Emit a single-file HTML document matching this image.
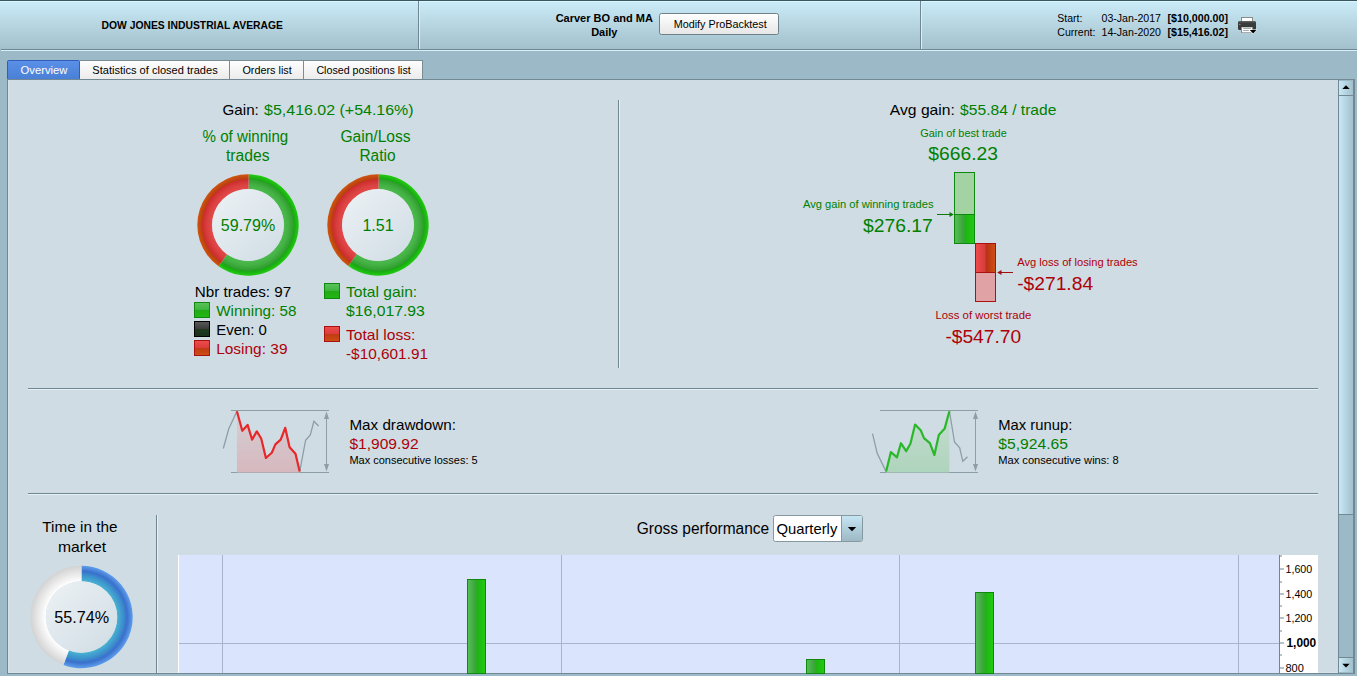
<!DOCTYPE html><html><head><meta charset="utf-8"><style>html,body{margin:0;padding:0;overflow:hidden;background:#9bb9c6}svg{display:block}text{font-family:"Liberation Sans",sans-serif}</style></head><body>
<svg width="1357" height="676" viewBox="0 0 1357 676">
<defs>
<linearGradient id="hdr" x1="0" y1="0" x2="0" y2="1"><stop offset="0" stop-color="#cbecf9"/><stop offset="1" stop-color="#a3c0cb"/></linearGradient>
<linearGradient id="btn" x1="0" y1="0" x2="0" y2="1"><stop offset="0" stop-color="#ffffff"/><stop offset="1" stop-color="#e6e6e6"/></linearGradient>
<linearGradient id="tabsel" x1="0" y1="0" x2="0" y2="1"><stop offset="0" stop-color="#5b90e8"/><stop offset="1" stop-color="#4a7fd6"/></linearGradient>
<linearGradient id="tab" x1="0" y1="0" x2="0" y2="1"><stop offset="0" stop-color="#ffffff"/><stop offset="1" stop-color="#ebebeb"/></linearGradient>
<linearGradient id="disc" x1="0" y1="0" x2="1" y2="1"><stop offset="0" stop-color="#edf2f5"/><stop offset="1" stop-color="#cfdce4"/></linearGradient>
<linearGradient id="ddb" x1="0" y1="0" x2="0" y2="1"><stop offset="0" stop-color="#c6e5f2"/><stop offset="1" stop-color="#9cb9c5"/></linearGradient>
<linearGradient id="thumb" x1="0" y1="0" x2="1" y2="0"><stop offset="0" stop-color="#c8e8f6"/><stop offset="1" stop-color="#a2c0cc"/></linearGradient>
<linearGradient id="sqg" x1="0" y1="0" x2="0" y2="1"><stop offset="0" stop-color="#5cc45c"/><stop offset="0.5" stop-color="#3cb43c"/><stop offset="0.5" stop-color="#22aa14"/><stop offset="1" stop-color="#22b814"/></linearGradient>
<linearGradient id="sqb" x1="0" y1="0" x2="0" y2="1"><stop offset="0" stop-color="#5a5a5a"/><stop offset="0.5" stop-color="#3a3a3a"/><stop offset="0.5" stop-color="#1e3a1e"/><stop offset="1" stop-color="#1a301a"/></linearGradient>
<linearGradient id="sqr" x1="0" y1="0" x2="0" y2="1"><stop offset="0" stop-color="#f04c4c"/><stop offset="0.5" stop-color="#dc3c3c"/><stop offset="0.5" stop-color="#c03a14"/><stop offset="1" stop-color="#cc5014"/></linearGradient>
<linearGradient id="barg" x1="0" y1="0" x2="1" y2="0"><stop offset="0" stop-color="#55c055"/><stop offset="0.45" stop-color="#3aa43a"/><stop offset="0.55" stop-color="#1eb414"/><stop offset="1" stop-color="#22cc11"/></linearGradient>
<linearGradient id="barr" x1="0" y1="0" x2="1" y2="0"><stop offset="0" stop-color="#f04c4c"/><stop offset="0.45" stop-color="#d83c3c"/><stop offset="0.55" stop-color="#b83214"/><stop offset="1" stop-color="#d05214"/></linearGradient>
<linearGradient id="fillr" x1="0" y1="0" x2="0" y2="1"><stop offset="0" stop-color="#d4d0d6"/><stop offset="1" stop-color="#d6b8be"/></linearGradient>
<linearGradient id="fillg" x1="0" y1="0" x2="0" y2="1"><stop offset="0" stop-color="#c6dcd2"/><stop offset="1" stop-color="#aed4bc"/></linearGradient>
<radialGradient id="rg" gradientUnits="userSpaceOnUse" cx="0" cy="0" r="50.7"><stop offset="0.708" stop-color="#4cba4c"/><stop offset="0.8" stop-color="#42b042"/><stop offset="0.9" stop-color="#2e9e2e"/><stop offset="0.905" stop-color="#18a612"/><stop offset="1" stop-color="#22cc12"/></radialGradient>
<radialGradient id="rr" gradientUnits="userSpaceOnUse" cx="0" cy="0" r="50.7"><stop offset="0.708" stop-color="#e44a4a"/><stop offset="0.8" stop-color="#da4040"/><stop offset="0.9" stop-color="#cc2c2c"/><stop offset="0.905" stop-color="#b83e10"/><stop offset="1" stop-color="#d05510"/></radialGradient>
<radialGradient id="rb" gradientUnits="userSpaceOnUse" cx="0" cy="0" r="51.2"><stop offset="0.697" stop-color="#48b2d2"/><stop offset="0.82" stop-color="#3c8ecc"/><stop offset="0.89" stop-color="#3a70cc"/><stop offset="1" stop-color="#5e9eec"/></radialGradient>
<radialGradient id="rw" gradientUnits="userSpaceOnUse" cx="0" cy="0" r="51.2"><stop offset="0.697" stop-color="#ffffff"/><stop offset="1" stop-color="#d2d2d2"/></radialGradient>
</defs>
<rect x="0" y="0" width="1357" height="676" fill="#9bb9c6"/>
<rect x="0" y="0" width="1357" height="49" fill="url(#hdr)"/>
<rect x="0" y="0" width="1357" height="1" fill="#3a5560"/>
<rect x="0" y="1" width="1357" height="1" fill="#d8f7ff"/>
<rect x="1" y="49" width="1356" height="1" fill="#6e8792"/>
<rect x="1" y="50" width="1356" height="1" fill="#d6f0fa"/>
<rect x="418" y="1" width="1" height="48" fill="#6e8792"/>
<rect x="419" y="2" width="1" height="47" fill="#d8f0fa"/>
<rect x="920" y="1" width="1" height="48" fill="#6e8792"/>
<rect x="921" y="2" width="1" height="47" fill="#d8f0fa"/>
<text x="101.5" y="28.7" font-size="11" fill="#000" font-weight="bold" textLength="181.5" lengthAdjust="spacingAndGlyphs" >DOW JONES INDUSTRIAL AVERAGE</text>
<text x="604.3" y="22" font-size="11" fill="#000" font-weight="bold" text-anchor="middle" textLength="97.3" lengthAdjust="spacingAndGlyphs" >Carver BO and MA</text>
<text x="604.3" y="35.8" font-size="11" fill="#000" font-weight="bold" text-anchor="middle" >Daily</text>
<rect x="659.5" y="13.5" width="119" height="21" rx="2" fill="url(#btn)" stroke="#6f8189"/>
<text x="673.7" y="28" font-size="11" fill="#000" textLength="93" lengthAdjust="spacingAndGlyphs" >Modify ProBacktest</text>
<text x="1057.3" y="21.8" font-size="11" fill="#000" textLength="25.1" lengthAdjust="spacingAndGlyphs" >Start:</text>
<text x="1101.5" y="21.8" font-size="11" fill="#000" textLength="59.5" lengthAdjust="spacingAndGlyphs" >03-Jan-2017</text>
<text x="1167.5" y="21.8" font-size="11" fill="#000" font-weight="bold" textLength="60.5" lengthAdjust="spacingAndGlyphs" >[$10,000.00]</text>
<text x="1057.3" y="35.5" font-size="11" fill="#000" textLength="38.1" lengthAdjust="spacingAndGlyphs" >Current:</text>
<text x="1101.5" y="35.5" font-size="11" fill="#000" textLength="59.5" lengthAdjust="spacingAndGlyphs" >14-Jan-2020</text>
<text x="1167.5" y="35.5" font-size="11" fill="#000" font-weight="bold" textLength="60.5" lengthAdjust="spacingAndGlyphs" >[$15,416.02]</text>
<g>
<rect x="1241" y="17" width="12" height="5" fill="#8a8a8a"/>
<rect x="1242" y="18" width="10" height="4" fill="#fff"/>
<rect x="1238" y="21" width="18" height="9" rx="1.5" fill="#3a3a3a"/>
<rect x="1239" y="21" width="16" height="1.5" fill="#5a5a5a"/>
<circle cx="1239.8" cy="24.5" r="0.8" fill="#8a8a8a"/>
<rect x="1241" y="27" width="12" height="6" fill="#8a8a8a"/>
<rect x="1242" y="27.5" width="10" height="4.8" fill="#fff"/>
<rect x="1243.2" y="28" width="7.6" height="1" fill="#a4acb0"/>
<rect x="1243.2" y="30" width="5.7" height="1" fill="#a4acb0"/>
<path d="M1248.8,29.6 L1257.2,29.6 L1253,34.2 Z" fill="#fff"/>
<path d="M1249.8,30.1 L1256.4,30.1 L1253.1,33.5 Z" fill="#000"/>
</g>
<rect x="80" y="60" width="343" height="19" fill="url(#tab)"/>
<rect x="80" y="60" width="343" height="1" fill="#7a8c94"/>
<rect x="229" y="60" width="1" height="19" fill="#7a8c94"/>
<rect x="303" y="60" width="1" height="19" fill="#7a8c94"/>
<rect x="422" y="60" width="1" height="19" fill="#7a8c94"/>
<rect x="7.5" y="60.5" width="72" height="19" rx="1" fill="url(#tabsel)" stroke="#2f5fb8"/>
<text x="20.6" y="73.8" font-size="11" fill="#ffffff" textLength="46.8" lengthAdjust="spacingAndGlyphs" >Overview</text>
<text x="92.3" y="73.8" font-size="11" fill="#000" textLength="125.4" lengthAdjust="spacingAndGlyphs" >Statistics of closed trades</text>
<text x="242.4" y="73.8" font-size="11" fill="#000" textLength="49.4" lengthAdjust="spacingAndGlyphs" >Orders list</text>
<text x="316.4" y="73.8" font-size="11" fill="#000" textLength="94.4" lengthAdjust="spacingAndGlyphs" >Closed positions list</text>
<rect x="7" y="79" width="1348" height="595" fill="#728893"/>
<rect x="8" y="80" width="1330" height="593" fill="#d6e3ea"/>
<rect x="9" y="80" width="1329" height="592" fill="#cfdce3"/>
<rect x="1338" y="80" width="16" height="593" fill="#9bb9c6"/>
<rect x="1338" y="80" width="1" height="593" fill="#728893"/>
<rect x="1353" y="80" width="2" height="593" fill="#728893"/>
<rect x="1339" y="81" width="14" height="14" fill="url(#thumb)"/>
<rect x="1339" y="95" width="14" height="1" fill="#728893"/>
<path d="M1342.3,89 L1349.7,89 L1346,85.3 Z" fill="#000"/>
<rect x="1339" y="96" width="14" height="418" fill="url(#thumb)"/>
<rect x="1339" y="514" width="14" height="1" fill="#728893"/>
<rect x="1339" y="657" width="14" height="1" fill="#728893"/>
<rect x="1339" y="658" width="14" height="14" fill="url(#thumb)"/>
<path d="M1342.3,663.8 L1349.7,663.8 L1346,667.5 Z" fill="#000"/>
<text x="222.5" y="115" font-size="15" fill="#000" textLength="36.3" lengthAdjust="spacingAndGlyphs" >Gain:</text>
<text x="264.1" y="115" font-size="15" fill="#008000" textLength="149.5" lengthAdjust="spacingAndGlyphs" >$5,416.02 (+54.16%)</text>
<text x="245.4" y="142" font-size="16" fill="#008000" text-anchor="middle" textLength="85.6" lengthAdjust="spacingAndGlyphs" >% of winning</text>
<text x="247.8" y="161.2" font-size="16" fill="#008000" text-anchor="middle" textLength="43.6" lengthAdjust="spacingAndGlyphs" >trades</text>
<text x="375.5" y="142" font-size="16" fill="#008000" text-anchor="middle" textLength="70.2" lengthAdjust="spacingAndGlyphs" >Gain/Loss</text>
<text x="377.5" y="161.2" font-size="16" fill="#008000" text-anchor="middle" textLength="36.1" lengthAdjust="spacingAndGlyphs" >Ratio</text>
<g transform="translate(248,225)">
<path d="M0.71,-50.70 A50.7,50.7 0 1 1 -29.44,41.28 L-20.85,29.23 A35.9,35.9 0 1 0 0.50,-35.90 Z" fill="url(#rg)"/>
<path d="M-29.44,41.28 A50.7,50.7 0 0 1 0.71,-50.70 L0.50,-35.90 A35.9,35.9 0 0 0 -20.85,29.23 Z" fill="url(#rr)"/>
<circle cx="0" cy="0" r="35.9" fill="url(#disc)"/>
</g>
<g transform="translate(378,225)">
<path d="M0.71,-50.70 A50.7,50.7 0 1 1 -29.80,41.02 L-21.10,29.04 A35.9,35.9 0 1 0 0.50,-35.90 Z" fill="url(#rg)"/>
<path d="M-29.80,41.02 A50.7,50.7 0 0 1 0.71,-50.70 L0.50,-35.90 A35.9,35.9 0 0 0 -21.10,29.04 Z" fill="url(#rr)"/>
<circle cx="0" cy="0" r="35.9" fill="url(#disc)"/>
</g>
<text x="248" y="231" font-size="16" fill="#008000" text-anchor="middle" textLength="54.4" lengthAdjust="spacingAndGlyphs" >59.79%</text>
<text x="378" y="231" font-size="16" fill="#008000" text-anchor="middle" >1.51</text>
<text x="194.7" y="296.6" font-size="15" fill="#000" textLength="96.5" lengthAdjust="spacingAndGlyphs" >Nbr trades: 97</text>
<rect x="194.5" y="302.5" width="15" height="15" fill="url(#sqg)" stroke="#0e880e"/>
<text x="216.2" y="315.8" font-size="15" fill="#008000" textLength="80.2" lengthAdjust="spacingAndGlyphs" >Winning: 58</text>
<rect x="194.5" y="321.5" width="15" height="15" fill="url(#sqb)" stroke="#000"/>
<text x="216.2" y="334.8" font-size="15" fill="#000" textLength="50.7" lengthAdjust="spacingAndGlyphs" >Even: 0</text>
<rect x="194.5" y="340.5" width="15" height="15" fill="url(#sqr)" stroke="#aa1111"/>
<text x="216.2" y="353.8" font-size="15" fill="#ae0008" textLength="71.3" lengthAdjust="spacingAndGlyphs" >Losing: 39</text>
<rect x="324.5" y="283.5" width="15" height="15" fill="url(#sqg)" stroke="#0e880e"/>
<text x="346" y="296.9" font-size="15" fill="#008000" textLength="71.2" lengthAdjust="spacingAndGlyphs" >Total gain:</text>
<text x="346" y="315.8" font-size="15" fill="#008000" textLength="78.8" lengthAdjust="spacingAndGlyphs" >$16,017.93</text>
<rect x="324.5" y="326.5" width="15" height="15" fill="url(#sqr)" stroke="#aa1111"/>
<text x="346" y="339.8" font-size="15" fill="#ae0008" textLength="69.4" lengthAdjust="spacingAndGlyphs" >Total loss:</text>
<text x="346" y="358.6" font-size="15" fill="#ae0008" textLength="82" lengthAdjust="spacingAndGlyphs" >-$10,601.91</text>
<rect x="618" y="100" width="1" height="268" fill="#6f8792"/>
<rect x="619" y="100" width="1" height="268" fill="#e4f2f8"/>
<text x="889.8" y="114.8" font-size="15" fill="#000" textLength="65.1" lengthAdjust="spacingAndGlyphs" >Avg gain:</text>
<text x="960.1" y="114.8" font-size="15" fill="#008000" textLength="96.3" lengthAdjust="spacingAndGlyphs" >$55.84 / trade</text>
<text x="920.3" y="136.5" font-size="11" fill="#008000" textLength="86.4" lengthAdjust="spacingAndGlyphs" >Gain of best trade</text>
<text x="928.3" y="160.3" font-size="18" fill="#008000" textLength="69.7" lengthAdjust="spacingAndGlyphs" >$666.23</text>
<rect x="954.5" y="172.5" width="20" height="42" fill="#a3d2a3" stroke="#0e880e"/>
<rect x="954.5" y="214.5" width="20" height="29" fill="url(#barg)" stroke="#0e880e"/>
<path d="M937,214.5 L952,214.5" stroke="#0e780e" stroke-width="1"/><path d="M949.5,212 L953.8,214.5 L949.5,217 Z" fill="#0e780e"/>
<text x="803" y="207.6" font-size="11" fill="#008000" textLength="130.5" lengthAdjust="spacingAndGlyphs" >Avg gain of winning trades</text>
<text x="863.1" y="231.6" font-size="18" fill="#008000" textLength="69.7" lengthAdjust="spacingAndGlyphs" >$276.17</text>
<rect x="975.5" y="243.5" width="20" height="29" fill="url(#barr)" stroke="#aa1111"/>
<rect x="975.5" y="272.5" width="20" height="29" fill="#e0a2a4" stroke="#aa1111"/>
<path d="M999,272.5 L1013,272.5" stroke="#a01010" stroke-width="1"/><path d="M1001.5,270 L997.2,272.5 L1001.5,275 Z" fill="#a01010"/>
<text x="1017.2" y="266" font-size="11" fill="#ae0008" textLength="120.5" lengthAdjust="spacingAndGlyphs" >Avg loss of losing trades</text>
<text x="1017.2" y="289.5" font-size="18" fill="#ae0008" textLength="75.9" lengthAdjust="spacingAndGlyphs" >-$271.84</text>
<text x="935.5" y="318.7" font-size="11" fill="#ae0008" textLength="95.8" lengthAdjust="spacingAndGlyphs" >Loss of worst trade</text>
<text x="945.4" y="342.5" font-size="18" fill="#ae0008" textLength="75.7" lengthAdjust="spacingAndGlyphs" >-$547.70</text>
<rect x="28" y="388" width="1290" height="1" fill="#6f8792"/>
<rect x="28" y="389" width="1290" height="1" fill="#e4f2f8"/>
<rect x="28" y="493" width="1290" height="1" fill="#6f8792"/>
<rect x="28" y="494" width="1290" height="1" fill="#e4f2f8"/>
<rect x="231" y="410" width="98" height="1" fill="#8e9ea6"/>
<rect x="231" y="472" width="98" height="1" fill="#8e9ea6"/>
<polygon points="236.9,472.5 236.9,411.2 242.3,430.8 247.6,424.9 252.1,439.6 256.8,431.4 261.2,438.5 265.9,458 271.8,452.7 275.4,444.4 280.7,439.6 285.2,427.8 289.6,447.3 295.5,453.8 299.7,471.6 299.7,472.5" fill="url(#fillr)"/>
<polyline points="223.3,448.5 228.7,429 236.9,411.2" fill="none" stroke="#8e9ea6" stroke-width="1.3"/>
<polyline points="299.7,471.6 305.6,440.2 310.3,434.9 313.9,421.3 318.6,426" fill="none" stroke="#8e9ea6" stroke-width="1.3"/>
<polyline points="236.9,411.2 242.3,430.8 247.6,424.9 252.1,439.6 256.8,431.4 261.2,438.5 265.9,458 271.8,452.7 275.4,444.4 280.7,439.6 285.2,427.8 289.6,447.3 295.5,453.8 299.7,471.6" fill="none" stroke="#e82828" stroke-width="2.2" stroke-linejoin="round"/>
<rect x="326.0" y="414" width="1" height="55" fill="#8e9ea6"/>
<path d="M324.0,419 L329.0,419 L326.5,411.5 Z" fill="#8e9ea6"/>
<path d="M324.0,464 L329.0,464 L326.5,471.5 Z" fill="#8e9ea6"/>
<text x="349.4" y="429.9" font-size="15" fill="#000" textLength="106.6" lengthAdjust="spacingAndGlyphs" >Max drawdown:</text>
<text x="349.4" y="448.9" font-size="15" fill="#ae0008" textLength="69.3" lengthAdjust="spacingAndGlyphs" >$1,909.92</text>
<text x="349.4" y="463.6" font-size="11" fill="#000" textLength="128.2" lengthAdjust="spacingAndGlyphs" >Max consecutive losses: 5</text>
<rect x="880" y="410" width="98" height="1" fill="#8e9ea6"/>
<rect x="880" y="472" width="98" height="1" fill="#8e9ea6"/>
<polygon points="886.1,472.5 886.1,471.6 890.9,452.1 897,457.4 900.9,443.2 906.2,451.1 910.4,443.8 915.1,424.6 920.7,430.2 924,438.1 929.9,443.2 934.4,455 938.8,434.9 944.7,428.4 949.4,411.2 949.4,472.5" fill="url(#fillg)"/>
<polyline points="872.5,433.7 877.2,453.3 886.1,471.6" fill="none" stroke="#8e9ea6" stroke-width="1.3"/>
<polyline points="949.4,411.2 954.5,442 959.7,447.9 962.8,461.3 967.5,456.8" fill="none" stroke="#8e9ea6" stroke-width="1.3"/>
<polyline points="886.1,471.6 890.9,452.1 897,457.4 900.9,443.2 906.2,451.1 910.4,443.8 915.1,424.6 920.7,430.2 924,438.1 929.9,443.2 934.4,455 938.8,434.9 944.7,428.4 949.4,411.2" fill="none" stroke="#2ab82a" stroke-width="2.2" stroke-linejoin="round"/>
<rect x="975.0" y="414" width="1" height="55" fill="#8e9ea6"/>
<path d="M973.0,419 L978.0,419 L975.5,411.5 Z" fill="#8e9ea6"/>
<path d="M973.0,464 L978.0,464 L975.5,471.5 Z" fill="#8e9ea6"/>
<text x="998.3" y="429.9" font-size="15" fill="#000" textLength="74" lengthAdjust="spacingAndGlyphs" >Max runup:</text>
<text x="998.3" y="448.9" font-size="15" fill="#008000" textLength="69.6" lengthAdjust="spacingAndGlyphs" >$5,924.65</text>
<text x="998.3" y="463.6" font-size="11" fill="#000" textLength="120.4" lengthAdjust="spacingAndGlyphs" >Max consecutive wins: 8</text>
<text x="79.9" y="532" font-size="15" fill="#000" text-anchor="middle" textLength="75.1" lengthAdjust="spacingAndGlyphs" >Time in the</text>
<text x="82" y="551.8" font-size="15" fill="#000" text-anchor="middle" textLength="48" lengthAdjust="spacingAndGlyphs" >market</text>
<g transform="translate(81.5,617)">
<path d="M0.00,-51.20 A51.2,51.2 0 1 1 -18.10,47.89 L-12.62,33.40 A35.7,35.7 0 1 0 0.00,-35.70 Z" fill="url(#rb)"/>
<path d="M-18.10,47.89 A51.2,51.2 0 0 1 -0.00,-51.20 L-0.00,-35.70 A35.7,35.7 0 0 0 -12.62,33.40 Z" fill="url(#rw)"/>
<circle cx="0" cy="0" r="35.7" fill="url(#disc)"/></g>
<text x="81.6" y="622.6" font-size="16" fill="#000" text-anchor="middle" textLength="54.9" lengthAdjust="spacingAndGlyphs" >55.74%</text>
<rect x="156" y="515" width="1" height="158" fill="#6f8792"/>
<rect x="157" y="515" width="1" height="158" fill="#e4f2f8"/>
<text x="636.7" y="533.5" font-size="16" fill="#000" textLength="132.5" lengthAdjust="spacingAndGlyphs" >Gross performance</text>
<rect x="773.5" y="515.5" width="89" height="26" rx="2" fill="#fff" stroke="#8698a0"/>
<rect x="841" y="516" width="21" height="25" fill="url(#ddb)"/>
<rect x="841" y="516" width="1" height="25" fill="#8698a0"/>
<path d="M847.8,527 L856.2,527 L852,531.3 Z" fill="#000"/>
<text x="776.4" y="533.5" font-size="15" fill="#000" textLength="60.9" lengthAdjust="spacingAndGlyphs" >Quarterly</text>
<rect x="178" y="555" width="1102" height="118" fill="#ffffff"/>
<rect x="179" y="555" width="1100" height="118" fill="#dae5fd"/>
<rect x="222" y="555" width="1" height="118" fill="#a9b5cc"/>
<rect x="561" y="555" width="1" height="118" fill="#a9b5cc"/>
<rect x="899" y="555" width="1" height="118" fill="#a9b5cc"/>
<rect x="1238" y="555" width="1" height="118" fill="#a9b5cc"/>
<rect x="179" y="643" width="1100" height="1" fill="#a9b5cc"/>
<rect x="1280" y="555" width="38" height="118" fill="#ffffff"/>
<rect x="1279" y="555" width="1" height="118" fill="#6f8792"/>
<rect x="1280" y="568.5" width="4" height="1" fill="#6f8792"/>
<rect x="1280" y="593.5" width="4" height="1" fill="#6f8792"/>
<rect x="1280" y="617.5" width="4" height="1" fill="#6f8792"/>
<rect x="1280" y="642.5" width="4" height="1" fill="#6f8792"/>
<rect x="1280" y="667.5" width="4" height="1" fill="#6f8792"/>
<rect x="1280" y="555.5" width="2" height="1" fill="#6f8792"/>
<rect x="1280" y="581.5" width="2" height="1" fill="#6f8792"/>
<rect x="1280" y="605.5" width="2" height="1" fill="#6f8792"/>
<rect x="1280" y="630.5" width="2" height="1" fill="#6f8792"/>
<rect x="1280" y="654.5" width="2" height="1" fill="#6f8792"/>
<text x="1285.5" y="572.5" font-size="11" fill="#000" textLength="26.7" lengthAdjust="spacingAndGlyphs" >1,600</text>
<text x="1285.5" y="598.2" font-size="11" fill="#000" textLength="26.7" lengthAdjust="spacingAndGlyphs" >1,400</text>
<text x="1285.5" y="622.2" font-size="11" fill="#000" textLength="26.7" lengthAdjust="spacingAndGlyphs" >1,200</text>
<text x="1286.5" y="647.3" font-size="12" fill="#000" font-weight="bold" textLength="29.7" lengthAdjust="spacingAndGlyphs" >1,000</text>
<text x="1285.5" y="671.6" font-size="11" fill="#000" >800</text>
<rect x="467.5" y="579.5" width="18" height="94" fill="url(#barg)" stroke="#0e880e"/>
<rect x="806.5" y="659.5" width="18" height="14" fill="url(#barg)" stroke="#0e880e"/>
<rect x="975.5" y="592.5" width="18" height="81" fill="url(#barg)" stroke="#0e880e"/>
</svg></body></html>
